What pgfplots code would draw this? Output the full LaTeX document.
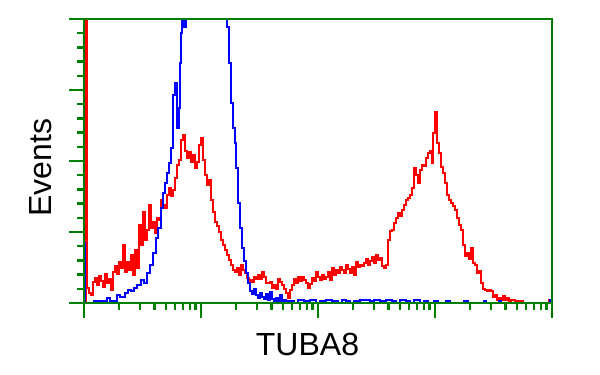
\documentclass[border=0pt]{standalone}
\usepackage{fontspec}
\setmainfont{Liberation Sans}
\usepackage{pgfplots}
\pgfplotsset{compat=1.18}
\definecolor{axisgreen}{RGB}{0,128,0}
\begin{document}
\begin{tikzpicture}
\begin{axis}[
  at={(0,0)}, anchor=south west,
  scale only axis, width=234pt, height=142pt,
  xmin=0, xmax=468, ymin=0, ymax=284,
  axis on top,
  axis line style={draw=axisgreen, line width=1.2pt},
  tick style={draw=axisgreen, line width=1.2pt},
  tick align=outside,
  tick pos=left,
  xtick={0,117,234,351,468},
  minor xtick={35.2,55.8,70.4,81.8,91.0,98.9,105.7,111.6,
               152.2,172.8,187.4,198.8,208.0,215.9,222.7,228.6,
               269.2,289.8,304.4,315.8,325.0,332.9,339.7,345.6,
               386.2,406.8,421.4,432.8,442.0,449.9,456.7,462.6},
  ytick={0,71,142,213,284},
  minor y tick num=4,
  xticklabels={}, yticklabels={},
  major tick length=7.5pt, minor tick length=3.5pt,
  clip=true,
  xlabel={TUBA8}, ylabel={Events},
  label style={font=\fontsize{16}{19}\selectfont},
  xlabel style={at={(axis description cs:0.4776,-0.1831)}, anchor=base},
  ylabel style={at={(axis description cs:-0.0690,0.4771)}, anchor=base, rotate=0},
]
\addplot[const plot, red, line width=1.3pt] coordinates {
(0,0)(1.6,400)(3.2,15)(5,10)(7,8)(9,21)(11,25)(13,18)(15,27)(17,22)(19,16)(21,29)(23,20)(25,24)(27,13)(29,31)(31,37)(33,29)(35,41)(37,35)(39,58)(41,31)(43,41)(45,33)(47,48)(49,28)(51,53)(53,35)(55,78)(57,58)(59,91)(61,63)(63,73)(65,98)(67,75)(69,81)(71,70)(73,85)(75,83)(77,103)(79,98)(81,95)(83,108)(85,115)(87,107)(89,113)(91,125)(93,138)(95,143)(97,163)(99,168)(101,152)(103,145)(105,151)(107,141)(109,148)(111,135)(113,141)(115,158)(117,165)(119,143)(121,128)(123,118)(125,123)(127,103)(129,91)(131,81)(133,77)(135,71)(137,63)(139,58)(141,53)(143,48)(145,43)(147,38)(149,33)(151,31)(153,35)(155,28)(157,38)(159,33)(161,30)(163,25)(165,20)
(166,23)(168,21)(170,26)(172,24)(174,28)(176,24)(178,31)(180,26)(182,20)(184,20)(186,21)(188,15)(190,18)(192,14)(194,24)(196,21)(198,18)(200,14)(202,10)(204,5)(206,13)(208,18)(210,24)(212,20)(214,26)(216,22)(218,26)(220,23)(222,20)(224,15)(226,19)(228,25)(230,22)(232,31)(234,26)(236,23)(238,28)(240,24)(242,26)(244,31)(246,23)(248,35)(250,28)(252,33)(254,30)(256,36)(258,33)(260,30)(262,38)(264,34)(266,30)(268,36)(270,28)(272,41)(274,36)(276,38)(278,37)(280,40)(282,44)(284,38)(286,42)(288,46)(290,40)(292,48)(294,43)(296,45)(298,37)(300,35)(302,38)
(304,63)(306,72)(308,73)(310,80)(312,85)(314,90)(316,87)(318,93)(320,98)(322,103)(324,105)(326,108)(328,115)(330,135)(332,128)(334,120)(336,133)(338,138)(340,137)(342,145)(344,150)(346,152)(348,140)(349,170)(351,191)(353,160)(355,150)(357,136)(359,130)(361,120)(363,108)(365,103)(367,100)(369,97)(371,93)(373,85)(375,78)(377,73)(379,58)(381,47)(383,50)(385,44)(387,55)(389,40)(391,38)(393,30)(395,32)(397,20)(399,14)(401,13)(403,12)(405,13)(407,12)(409,6)(411,8)(413,3)(415,5)(417,3)(419,7)(421,3)(423,5)(425,2)(427,3)(431,2)(439,0)(465,3)(468,3)
};
\addplot[const plot, blue, line width=1.3pt] coordinates {
(0,60)(0.9,0)(10,2)(23,5)(26,2)(33,8)(36,6)(41,10)(44,13)(47,12)(50,15)(53,18)(57,23)(60,20)(63,30)(66,38)(69,50)(72,65)(74,75)(77,95)(79,110)(81,120)(83,130)(85,140)(87,155)(89,208)(91,220)(93,175)(95,195)(96,240)(97,270)(98,300)(100,276)(102,300)(143,276)(145,240)(147,200)(149,175)(151,160)(152,135)(154,100)(156,75)(158,55)(160,42)(162,30)(164,20)(166,12)(168,9)(170,14)(172,8)(174,5)(176,10)(178,6)(180,4)(182,9)(184,3)(186,11)(188,4)(190,2)(192,5)(194,2)(196,8)(198,2)(200,3)(202,2)(210,0)(214,3)(220,2)(226,3)(232,0)(236,2)(242,3)(248,2)(254,0)(258,3)(262,2)(266,0)(270,2)(276,3)(282,3)(286,2)(290,3)(296,2)(302,3)(308,2)(312,0)(316,3)(322,2)(326,0)(330,3)(336,0)(340,2)(344,0)(350,2)(354,0)(362,2)(366,0)(380,2)(384,0)(400,2)(402,0)(415,2)(417,0)(466,3)(468,3)
};
\end{axis}
\pgfresetboundingbox
\path[use as bounding box] (-42pt,-36pt) rectangle (258pt,151.5pt);
\end{tikzpicture}
\end{document}
